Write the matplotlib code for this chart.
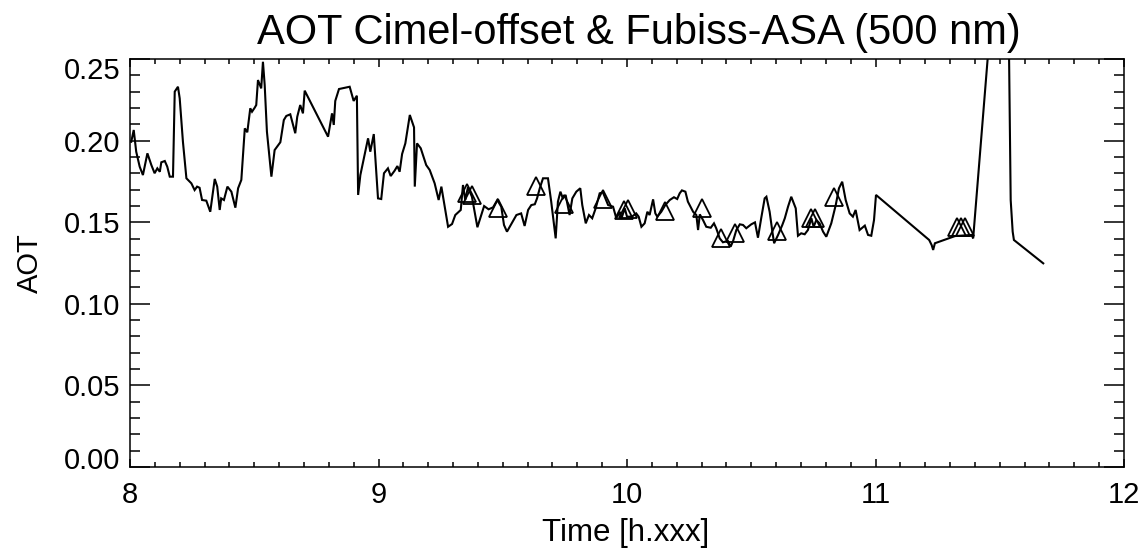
import numpy as np
import matplotlib
matplotlib.use("Agg")
import matplotlib.pyplot as plt
from matplotlib.ticker import MultipleLocator, FixedLocator
from matplotlib.transforms import offset_copy

plt.rcParams['font.family'] = ['Liberation Sans', 'DejaVu Sans']

# Cimel-offset AOT time series (time in decimal hours)
time_cimel = [
    8.005, 8.015, 8.025, 8.039, 8.052, 8.070, 8.086, 8.099, 8.110, 8.120,
    8.126, 8.140, 8.150, 8.160, 8.173, 8.180, 8.193, 8.200, 8.213, 8.227,
    8.247, 8.260, 8.270, 8.280, 8.290, 8.307, 8.323, 8.341, 8.351, 8.361,
    8.367, 8.378, 8.392, 8.408, 8.424, 8.435, 8.448, 8.462, 8.472, 8.484,
    8.491, 8.502, 8.508, 8.515, 8.528, 8.535, 8.542, 8.551, 8.569, 8.582,
    8.592, 8.605, 8.619, 8.629, 8.645, 8.665, 8.673, 8.685, 8.696, 8.703,
    8.797, 8.813, 8.820, 8.826, 8.841, 8.884, 8.900, 8.913, 8.918, 8.927,
    8.958, 8.967, 8.981, 8.998, 9.011, 9.022, 9.038, 9.049, 9.065, 9.076,
    9.085, 9.095, 9.108, 9.126, 9.143, 9.146, 9.155, 9.170, 9.192, 9.206,
    9.226, 9.242, 9.253, 9.280, 9.296, 9.309, 9.331, 9.340, 9.349, 9.360,
    9.376, 9.398, 9.425, 9.443, 9.461, 9.478, 9.494, 9.505, 9.517, 9.555,
    9.574, 9.588, 9.602, 9.615, 9.629, 9.638, 9.649, 9.662, 9.682, 9.695,
    9.713, 9.722, 9.732, 9.742, 9.753, 9.769, 9.780, 9.796, 9.812, 9.820,
    9.834, 9.847, 9.860, 9.874, 9.890, 9.903, 9.924, 9.944, 9.957, 9.971,
    9.977, 9.991, 10.000, 10.020, 10.037, 10.047, 10.058, 10.071, 10.082, 10.091,
    10.105, 10.114, 10.122, 10.138, 10.154, 10.172, 10.189, 10.202, 10.212, 10.221,
    10.235, 10.245, 10.252, 10.266, 10.279, 10.286, 10.293, 10.306, 10.319, 10.337,
    10.350, 10.359, 10.373, 10.386, 10.406, 10.417, 10.427, 10.440, 10.454, 10.467,
    10.480, 10.500, 10.515, 10.527, 10.540, 10.554, 10.561, 10.574, 10.585, 10.592,
    10.608, 10.625, 10.635, 10.648, 10.661, 10.679, 10.688, 10.701, 10.715, 10.728,
    10.742, 10.751, 10.762, 10.775, 10.789, 10.802, 10.822, 10.840, 10.853, 10.866,
    10.880, 10.896, 10.909, 10.920, 10.936, 10.957, 10.970, 10.983, 10.994, 11.002,
    11.216, 11.226, 11.232, 11.239, 11.320, 11.387, 11.393, 11.527, 11.544, 11.552,
    11.557, 11.675,
]
aot_cimel = [
    0.1993, 0.2065, 0.1932, 0.1840, 0.1789, 0.1922, 0.1850, 0.1800, 0.1830, 0.1809,
    0.1867, 0.1875, 0.1840, 0.1779, 0.1779, 0.2300, 0.2330, 0.2259, 0.1993, 0.1769,
    0.1738, 0.1697, 0.1718, 0.1711, 0.1636, 0.1632, 0.1564, 0.1765, 0.1718, 0.1575,
    0.1646, 0.1636, 0.1718, 0.1687, 0.1589, 0.1708, 0.1759, 0.2075, 0.2051, 0.2198,
    0.2177, 0.2202, 0.2218, 0.2371, 0.2320, 0.2483, 0.2341, 0.2055, 0.1779, 0.1942,
    0.1963, 0.1990, 0.2126, 0.2151, 0.2161, 0.2045, 0.2146, 0.2218, 0.2167, 0.2306,
    0.2024, 0.2167, 0.2096, 0.2243, 0.2316, 0.2330, 0.2243, 0.2275, 0.1667, 0.1789,
    0.2014, 0.1932, 0.2040, 0.1646, 0.1642, 0.1800, 0.1830, 0.1783, 0.1816, 0.1844,
    0.1809, 0.1918, 0.1983, 0.2157, 0.2081, 0.1718, 0.1983, 0.1953, 0.1850, 0.1820,
    0.1738, 0.1636, 0.1718, 0.1472, 0.1489, 0.1544, 0.1575, 0.1728, 0.1636, 0.1714,
    0.1656, 0.1469, 0.1599, 0.1579, 0.1591, 0.1636, 0.1595, 0.1483, 0.1442, 0.1544,
    0.1554, 0.1477, 0.1575, 0.1605, 0.1610, 0.1646, 0.1708, 0.1769, 0.1769, 0.1626,
    0.1401, 0.1626, 0.1687, 0.1646, 0.1667, 0.1544, 0.1646, 0.1687, 0.1708, 0.1605,
    0.1493, 0.1544, 0.1524, 0.1585, 0.1677, 0.1683, 0.1605, 0.1595, 0.1524, 0.1564,
    0.1520, 0.1585, 0.1534, 0.1534, 0.1554, 0.1534, 0.1472, 0.1493, 0.1564, 0.1544,
    0.1640, 0.1554, 0.1534, 0.1564, 0.1605, 0.1636, 0.1653, 0.1642, 0.1677, 0.1695,
    0.1687, 0.1626, 0.1605, 0.1564, 0.1544, 0.1452, 0.1548, 0.1513, 0.1472, 0.1466,
    0.1493, 0.1463, 0.1401, 0.1377, 0.1385, 0.1350, 0.1385, 0.1452, 0.1487, 0.1483,
    0.1463, 0.1487, 0.1499, 0.1405, 0.1524, 0.1646, 0.1656, 0.1564, 0.1442, 0.1371,
    0.1422, 0.1483, 0.1524, 0.1595, 0.1656, 0.1585, 0.1417, 0.1432, 0.1426, 0.1452,
    0.1524, 0.1472, 0.1513, 0.1493, 0.1442, 0.1411, 0.1493, 0.1605, 0.1708, 0.1748,
    0.1636, 0.1554, 0.1534, 0.1575, 0.1452, 0.1479, 0.1422, 0.1417, 0.1513, 0.1667,
    0.1391, 0.1360, 0.1330, 0.1371, 0.1415, 0.1422, 0.1401, 0.3930, 0.1636, 0.1442,
    0.1391, 0.1248,
]

# Fubiss-ASA AOT (triangles)
time_asa = [9.356, 9.376, 9.479, 9.634, 9.746, 9.903, 9.988, 10.004, 10.153, 10.300,
            10.380, 10.435, 10.602, 10.740, 10.756, 10.835, 11.328, 11.346, 11.362]
aot_asa = [0.1679, 0.1667, 0.1587, 0.1722, 0.1612, 0.1642, 0.1575, 0.1581, 0.1569, 0.1587,
           0.1403, 0.1431, 0.1446, 0.1526, 0.1526, 0.1654, 0.1471, 0.1471, 0.1471]

x_ticks = [8, 9, 10, 11, 12]
y_ticks = [0.00, 0.05, 0.10, 0.15, 0.20, 0.25]
y_ticklabels = ['0.00', '0.05', '0.10', '0.15', '0.20', '0.25']

W, H = 1148, 552
fig = plt.figure(figsize=(W / 100, H / 100), dpi=100)
L, R, T, B = 130, 1124, 59, 467
ax = fig.add_axes([L / W, 1 - B / H, (R - L) / W, (B - T) / H])

ax.plot(time_cimel, aot_cimel, color='black', lw=1.5, solid_joinstyle='miter')
ax.plot(time_asa, aot_asa, linestyle='none', marker='^', markersize=13.5,
        markerfacecolor='none', markeredgecolor='black', markeredgewidth=1.3)

ax.set_xlim(8, 12)
ax.set_ylim(0, 0.25)
ax.xaxis.set_major_locator(FixedLocator(x_ticks))
ax.xaxis.set_minor_locator(MultipleLocator(0.1))
ax.yaxis.set_major_locator(FixedLocator(y_ticks))
ax.yaxis.set_minor_locator(MultipleLocator(0.01))
ax.set_yticklabels(y_ticklabels)
ax.set_xticklabels([str(v) for v in x_ticks])

ax.tick_params(axis='both', which='both', direction='in', top=True, right=True,
               width=1.1, color='black', labelsize=21)
ax.tick_params(axis='y', which='major', length=14.4, pad=7)
ax.tick_params(axis='y', which='minor', length=7.2)
ax.tick_params(axis='x', which='major', length=6, pad=10)
ax.tick_params(axis='x', which='minor', length=3.3)
for s in ax.spines.values():
    s.set_linewidth(1.1)

# IDL-like: end labels shifted inward
ylabels = ax.get_yticklabels()
ylabels[0].set_transform(offset_copy(ylabels[0].get_transform(), fig=fig, x=0, y=9, units='dots'))
ylabels[-1].set_transform(offset_copy(ylabels[-1].get_transform(), fig=fig, x=0, y=-9, units='dots'))

fig.text(639 / W, 1 - 44 / H, 'AOT Cimel-offset & Fubiss-ASA (500 nm)', ha='center',
         va='baseline', fontsize=30)
fig.text(626 / W, 1 - 541 / H, 'Time [h.xxx]', ha='center', va='baseline', fontsize=22.5)
fig.text(30 / W, 1 - 263 / H, 'AOT', ha='center', va='center', rotation=90, fontsize=21)

fig.savefig('out.png', dpi=100)
